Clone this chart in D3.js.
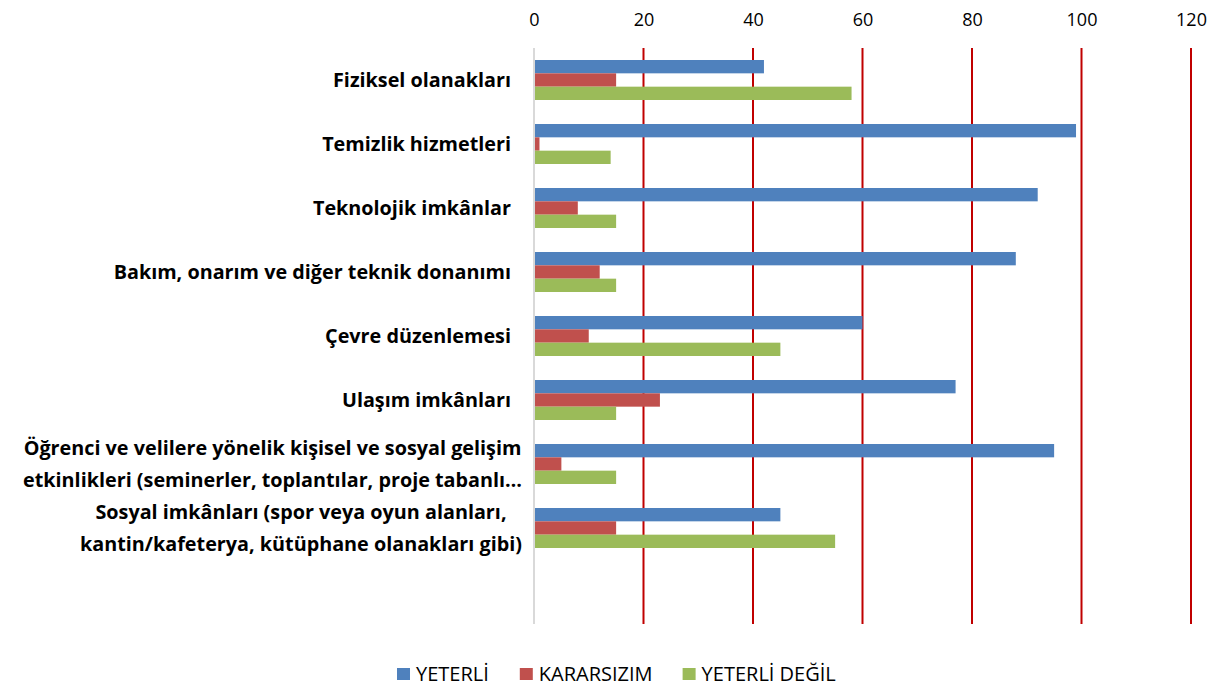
<!DOCTYPE html>
<html><head><meta charset="utf-8">
<script src="https://cdn.jsdelivr.net/npm/d3@7"></script>
<style>
body{margin:0;background:#fff;}
svg text{font-family:"Open Sans", sans-serif;}
</style></head>
<body><svg id="c" width="1226" height="693"></svg>
<script>
const categories = [
  ["Fiziksel olanakları"],
  ["Temizlik hizmetleri"],
  ["Teknolojik imkânlar"],
  ["Bakım, onarım ve diğer teknik donanımı"],
  ["Çevre düzenlemesi"],
  ["Ulaşım imkânları"],
  ["Öğrenci ve velilere yönelik kişisel ve sosyal gelişim", "etkinlikleri (seminerler, toplantılar, proje tabanlı…"],
  ["Sosyal imkânları (spor veya oyun alanları,", "kantin/kafeterya, kütüphane olanakları gibi)"],
  [""]
];
const seriesNames = ["YETERLİ", "KARARSIZIM", "YETERLİ DEĞİL"];
const yeterli     = [42, 99, 92, 88, 60, 77, 95, 45, null];
const kararsizim  = [15, 1, 8, 12, 10, 23, 5, 15, null];
const yeterliDegil= [58, 14, 15, 15, 45, 15, 15, 55, null];
const tickValues = [0, 20, 40, 60, 80, 100, 120];
const colors = ["#4f81bd", "#c0504d", "#9bbb59"];

(function(){
const series = [yeterli, kararsizim, yeterliDegil];
const svg = d3.select("#c");
const pLeft = 534, pRight = 1191, pTop = 48, pBottom = 624;

const x = d3.scaleLinear().domain([0, 120]).range([pLeft, pRight]);
const y = d3.scaleBand().domain(d3.range(categories.length)).range([pTop, pBottom]).paddingInner(0.375).paddingOuter(0.1875);
const yInner = d3.scaleBand().domain(d3.range(3)).range([0, y.bandwidth()]);

svg.append("g").selectAll("line").data(tickValues.filter(d => d > 0)).join("line")
  .attr("x1", d => x(d)).attr("x2", d => x(d)).attr("y1", pTop).attr("y2", pBottom)
  .attr("stroke", "#c00000").attr("stroke-width", 2);

const axis = svg.append("g").attr("transform", `translate(0,${pTop})`)
  .call(d3.axisTop(x).tickValues(tickValues).tickSize(0).tickPadding(22));
axis.select(".domain").remove();
axis.selectAll("text").attr("font-size", 18).attr("fill", "#000").style("font-family", "'Open Sans', sans-serif");

series.forEach((s, si) => {
  svg.append("g").selectAll("rect").data(s.map((v, i) => ({v, i})).filter(d => d.v != null)).join("rect")
    .attr("x", x(0))
    .attr("y", d => y(d.i) + yInner(si))
    .attr("width", d => x(d.v) - x(0))
    .attr("height", yInner.bandwidth())
    .attr("fill", colors[si]);
});

svg.append("line").attr("x1", x(0)).attr("x2", x(0)).attr("y1", pTop).attr("y2", pBottom)
  .attr("stroke", "#d9d9d9").attr("stroke-width", 2);

categories.forEach((lines, i) => {
  const cy = y(i) + y.bandwidth() / 2;
  const g = svg.append("g");
  const lh = 32;
  const texts = lines.map((t, k) => g.append("text")
    .attr("y", cy + (k - (lines.length - 1) / 2) * lh)
    .attr("dy", "0.35em")
    .attr("font-size", 19.8).attr("font-weight", "bold").attr("fill", "#000")
    .text(t));
  if (lines.length === 1) {
    texts[0].attr("x", 511).attr("text-anchor", "end");
  } else {
    const w = d3.max(texts, t => t.node().getComputedTextLength());
    texts.forEach(t => t.attr("x", 522 - w / 2).attr("text-anchor", "middle"));
  }
});

const legend = svg.append("g");
const legendY = 674;
let lx = 397;
const gaps = [31, 30, 0];
seriesNames.forEach((n, i) => {
  legend.append("rect").attr("x", lx).attr("y", legendY - 6).attr("width", 13).attr("height", 12).attr("fill", colors[i]);
  const t = legend.append("text").attr("x", lx + 19).attr("y", legendY).attr("dy", "0.35em")
    .attr("font-size", 20).attr("fill", "#000").text(n);
  lx += 19 + t.node().getComputedTextLength() + gaps[i];
});
})();
</script></body></html>
